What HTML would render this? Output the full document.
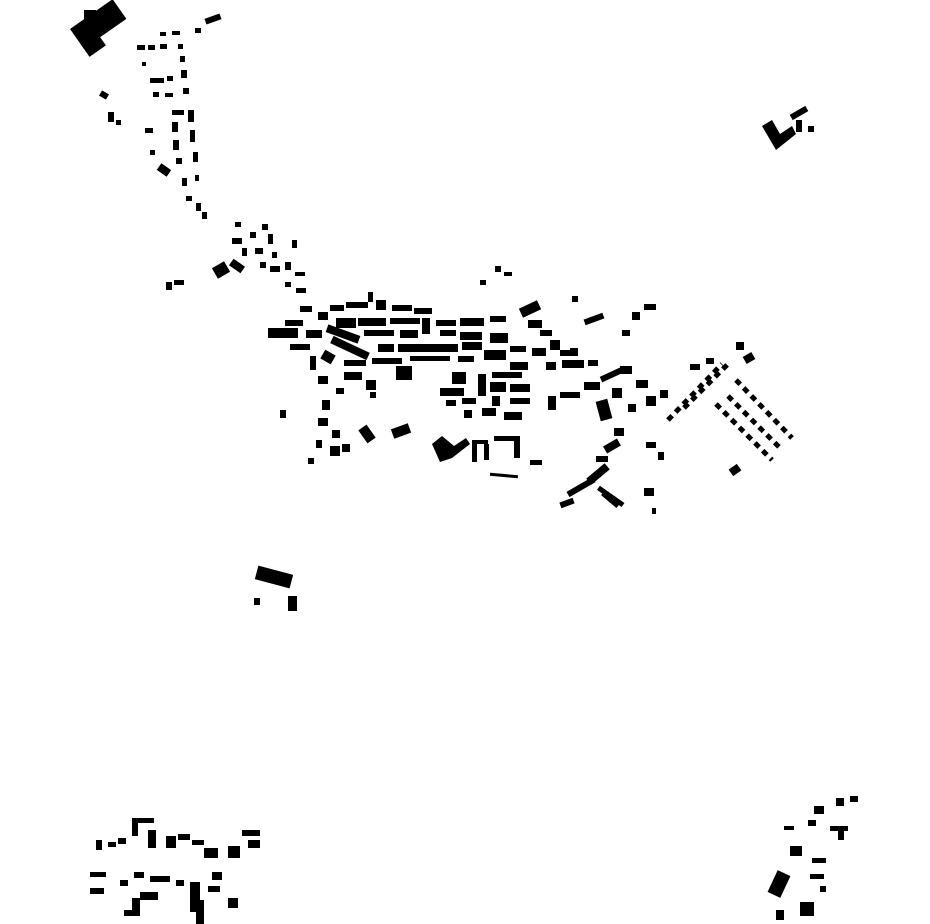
<!DOCTYPE html>
<html><head><meta charset="utf-8"><style>
html,body{margin:0;padding:0;background:#fff;}
svg{display:block}
</style></head><body>
<svg width="930" height="924" viewBox="0 0 930 924" xmlns="http://www.w3.org/2000/svg">
<g fill="#000">
<g transform="rotate(-35 100 30)"><rect x="76" y="12" width="52" height="24"/><rect x="76" y="30" width="20" height="16"/></g>
<rect x="84" y="10" width="12" height="10"/>
<rect x="205" y="16" width="16" height="6" transform="rotate(-20 213 19)"/>
<rect x="195" y="28" width="6" height="5"/><rect x="160" y="32" width="6" height="4"/><rect x="172" y="31" width="8" height="4"/>
<rect x="137" y="45" width="8" height="5"/><rect x="148" y="45" width="7" height="5"/><rect x="160" y="44" width="7" height="5"/>
<rect x="178" y="44" width="5" height="5"/><rect x="180" y="56" width="5" height="6"/><rect x="142" y="62" width="4" height="4"/>
<rect x="150" y="78" width="14" height="5"/><rect x="167" y="76" width="6" height="5"/><rect x="181" y="70" width="6" height="8"/>
<rect x="153" y="92" width="6" height="5"/><rect x="165" y="93" width="8" height="4"/><rect x="183" y="88" width="6" height="6"/>
<rect x="100" y="92" width="8" height="6" transform="rotate(30 104 95)"/><rect x="108" y="112" width="6" height="10"/><rect x="116" y="120" width="5" height="5"/>
<rect x="172" y="110" width="12" height="5"/><rect x="188" y="110" width="6" height="12"/><rect x="172" y="122" width="6" height="10"/>
<rect x="145" y="128" width="8" height="5"/><rect x="190" y="130" width="5" height="12"/><rect x="173" y="140" width="6" height="10"/>
<rect x="150" y="150" width="5" height="5"/><rect x="176" y="158" width="6" height="6"/><rect x="193" y="152" width="5" height="10"/>
<rect x="158" y="166" width="12" height="8" transform="rotate(35 164 170)"/><rect x="182" y="178" width="5" height="8"/><rect x="195" y="175" width="4" height="6"/>
<rect x="186" y="196" width="6" height="5"/><rect x="196" y="203" width="5" height="8"/><rect x="202" y="212" width="5" height="7"/>
<rect x="235" y="222" width="6" height="5"/><rect x="232" y="238" width="10" height="6"/><rect x="250" y="232" width="6" height="6"/>
<rect x="262" y="224" width="6" height="6"/><rect x="268" y="234" width="5" height="10"/><rect x="292" y="240" width="5" height="8"/>
<rect x="242" y="248" width="5" height="8"/><rect x="255" y="248" width="8" height="6"/><rect x="272" y="252" width="5" height="6"/>
<rect x="214" y="264" width="14" height="12" transform="rotate(-30 221 270)"/><rect x="230" y="262" width="14" height="8" transform="rotate(35 237 266)"/>
<rect x="260" y="262" width="6" height="6"/><rect x="270" y="266" width="10" height="6"/><rect x="285" y="262" width="6" height="8"/>
<rect x="295" y="272" width="10" height="4"/><rect x="285" y="282" width="6" height="5"/><rect x="296" y="288" width="10" height="5"/>
<rect x="166" y="282" width="6" height="8"/><rect x="174" y="280" width="10" height="5"/>
<rect x="495" y="266" width="6" height="6"/><rect x="504" y="272" width="8" height="4"/><rect x="480" y="280" width="6" height="5"/>
<rect x="268" y="328" width="30" height="10"/><rect x="285" y="320" width="18" height="6"/><rect x="300" y="306" width="12" height="6"/>
<rect x="318" y="312" width="10" height="8"/><rect x="330" y="305" width="14" height="6"/><rect x="346" y="302" width="22" height="6"/>
<rect x="368" y="292" width="5" height="10"/><rect x="376" y="300" width="10" height="10"/><rect x="392" y="305" width="20" height="6"/>
<rect x="414" y="308" width="18" height="6"/><rect x="336" y="318" width="20" height="10"/><rect x="358" y="318" width="28" height="8"/>
<rect x="390" y="318" width="30" height="6"/><rect x="422" y="318" width="8" height="16"/><rect x="436" y="320" width="20" height="6"/>
<rect x="460" y="318" width="24" height="8"/><rect x="490" y="316" width="16" height="6"/><rect x="306" y="330" width="16" height="8"/>
<rect x="326" y="330" width="34" height="8" transform="rotate(20 343 334)"/><rect x="364" y="330" width="30" height="6"/><rect x="400" y="330" width="18" height="8"/>
<rect x="440" y="330" width="16" height="6"/><rect x="460" y="332" width="22" height="8"/><rect x="490" y="333" width="18" height="10"/>
<rect x="290" y="344" width="20" height="6"/><rect x="330" y="344" width="40" height="8" transform="rotate(25 350 348)"/>
<rect x="378" y="344" width="16" height="8"/><rect x="398" y="344" width="60" height="8"/><rect x="462" y="342" width="20" height="8"/>
<rect x="310" y="356" width="6" height="14"/><rect x="322" y="352" width="12" height="10" transform="rotate(30 328 357)"/>
<rect x="344" y="360" width="22" height="6"/><rect x="372" y="358" width="30" height="6"/><rect x="410" y="356" width="40" height="5"/>
<rect x="458" y="356" width="16" height="6"/><rect x="484" y="350" width="22" height="10"/><rect x="510" y="346" width="16" height="6"/>
<rect x="396" y="366" width="16" height="14"/><rect x="344" y="372" width="18" height="8"/><rect x="318" y="376" width="10" height="8"/>
<rect x="366" y="380" width="10" height="10"/><rect x="336" y="388" width="8" height="6"/><rect x="370" y="392" width="6" height="6"/>
<rect x="452" y="372" width="14" height="12"/><rect x="478" y="374" width="8" height="22"/><rect x="492" y="372" width="30" height="6"/>
<rect x="510" y="362" width="18" height="8"/><rect x="440" y="388" width="24" height="8"/><rect x="490" y="382" width="16" height="10"/>
<rect x="510" y="384" width="20" height="8"/><rect x="446" y="400" width="10" height="6"/><rect x="462" y="398" width="14" height="6"/>
<rect x="492" y="396" width="8" height="10"/><rect x="510" y="398" width="20" height="6"/><rect x="482" y="408" width="14" height="8"/>
<rect x="464" y="410" width="8" height="8"/><rect x="504" y="412" width="18" height="8"/>
<rect x="520" y="304" width="20" height="10" transform="rotate(-25 530 309)"/><rect x="528" y="320" width="14" height="8"/><rect x="540" y="330" width="12" height="6"/>
<rect x="532" y="348" width="14" height="8"/><rect x="550" y="340" width="10" height="10"/><rect x="560" y="350" width="12" height="6"/>
<rect x="546" y="362" width="10" height="8"/><rect x="562" y="360" width="22" height="8"/><rect x="570" y="348" width="8" height="8"/>
<rect x="572" y="296" width="6" height="6"/><rect x="584" y="316" width="20" height="6" transform="rotate(-20 594 319)"/>
<rect x="588" y="360" width="10" height="6"/><rect x="600" y="372" width="22" height="6" transform="rotate(-25 611 375)"/>
<rect x="548" y="396" width="8" height="14"/><rect x="560" y="392" width="20" height="6"/><rect x="584" y="382" width="16" height="8"/>
<rect x="598" y="400" width="12" height="20" transform="rotate(-15 604 410)"/><rect x="612" y="388" width="10" height="10"/>
<rect x="620" y="366" width="12" height="8"/><rect x="622" y="330" width="8" height="6"/><rect x="632" y="312" width="8" height="8"/>
<rect x="644" y="304" width="12" height="6"/><rect x="636" y="380" width="12" height="8"/><rect x="628" y="404" width="8" height="8"/>
<rect x="646" y="396" width="10" height="10"/><rect x="660" y="390" width="8" height="8"/>
<rect x="322" y="400" width="8" height="10"/><rect x="318" y="418" width="10" height="8"/><rect x="332" y="430" width="8" height="8"/>
<rect x="316" y="440" width="6" height="8"/><rect x="330" y="446" width="10" height="10"/><rect x="342" y="444" width="8" height="8"/>
<rect x="308" y="458" width="6" height="6"/><rect x="280" y="410" width="6" height="8"/>
<rect x="362" y="426" width="10" height="16" transform="rotate(-35 367 434)"/><rect x="392" y="426" width="18" height="10" transform="rotate(-20 401 431)"/>
<path d="M432 444 L442 436 L454 446 L466 438 L470 444 L452 458 L440 462 Z"/>
<rect x="472" y="440" width="16" height="4"/><rect x="472" y="444" width="5" height="18"/><rect x="484" y="444" width="5" height="16"/>
<rect x="494" y="436" width="26" height="5"/><rect x="514" y="436" width="6" height="22"/>
<rect x="490" y="474" width="28" height="3" transform="rotate(5 504 475)"/><rect x="530" y="460" width="12" height="5"/>
<rect x="690" y="364" width="10" height="6"/><rect x="706" y="358" width="8" height="6"/><rect x="736" y="342" width="8" height="8"/>
<rect x="744" y="354" width="10" height="8" transform="rotate(-30 749 358)"/>
<rect x="730" y="466" width="10" height="8" transform="rotate(-35 735 470)"/>
<rect x="614" y="428" width="10" height="8"/><rect x="604" y="442" width="16" height="8" transform="rotate(-30 612 446)"/>
<rect x="596" y="456" width="12" height="6"/><rect x="586" y="470" width="24" height="8" transform="rotate(-40 598 474)"/>
<rect x="566" y="484" width="30" height="6" transform="rotate(-30 581 487)"/><rect x="560" y="500" width="14" height="6" transform="rotate(-20 567 503)"/>
<rect x="596" y="494" width="30" height="5" transform="rotate(35 611 496)"/><rect x="600" y="498" width="20" height="4" transform="rotate(40 610 500)"/>
<rect x="644" y="488" width="10" height="8"/><rect x="652" y="508" width="4" height="6"/><rect x="646" y="442" width="10" height="6"/>
<rect x="658" y="452" width="6" height="8"/>
<path d="M762 126 L772 120 L780 134 L792 126 L796 134 L776 150 Z"/>
<rect x="790" y="110" width="18" height="6" transform="rotate(-30 799 113)"/><rect x="796" y="120" width="6" height="12"/><rect x="808" y="126" width="6" height="6"/>
<rect x="256" y="570" width="36" height="14" transform="rotate(15 274 577)"/><rect x="288" y="596" width="9" height="15"/><rect x="254" y="598" width="6" height="7"/>
<rect x="96" y="840" width="6" height="10"/><rect x="108" y="842" width="8" height="5"/><rect x="118" y="838" width="8" height="6"/>
<rect x="132" y="818" width="22" height="5"/><rect x="132" y="822" width="6" height="14"/><rect x="148" y="830" width="8" height="18"/>
<rect x="166" y="836" width="10" height="12"/><rect x="178" y="834" width="12" height="6"/><rect x="192" y="840" width="12" height="5"/>
<rect x="204" y="848" width="14" height="10"/><rect x="228" y="846" width="12" height="12"/><rect x="242" y="830" width="18" height="6"/>
<rect x="248" y="840" width="12" height="8"/><rect x="90" y="872" width="16" height="5"/><rect x="90" y="888" width="14" height="6"/>
<rect x="120" y="880" width="8" height="6"/><rect x="134" y="872" width="10" height="6"/><rect x="150" y="876" width="20" height="6"/>
<rect x="176" y="880" width="8" height="6"/><rect x="190" y="882" width="10" height="30"/><rect x="196" y="900" width="8" height="24"/>
<rect x="208" y="886" width="12" height="6"/><rect x="212" y="872" width="10" height="8"/><rect x="140" y="892" width="18" height="8"/>
<rect x="124" y="910" width="16" height="6"/><rect x="132" y="898" width="8" height="14"/><rect x="228" y="898" width="10" height="10"/>
<rect x="836" y="798" width="8" height="8"/><rect x="850" y="796" width="8" height="6"/><rect x="814" y="806" width="10" height="8"/>
<rect x="808" y="820" width="8" height="6"/><rect x="830" y="826" width="18" height="5"/><rect x="838" y="828" width="6" height="12"/>
<rect x="784" y="826" width="10" height="4"/><rect x="790" y="846" width="12" height="10"/><rect x="812" y="858" width="14" height="5"/>
<rect x="810" y="874" width="14" height="5"/><rect x="772" y="872" width="14" height="24" transform="rotate(25 779 884)"/>
<rect x="800" y="902" width="14" height="14"/><rect x="776" y="910" width="8" height="10"/><rect x="820" y="886" width="6" height="6"/>
</g>
<g stroke="#000" stroke-width="5" stroke-dasharray="6 5" fill="none">
<line x1="668" y1="420" x2="722" y2="364"/>
<line x1="684" y1="408" x2="730" y2="362"/>
<line x1="736" y1="380" x2="792" y2="438"/>
<line x1="716" y1="404" x2="772" y2="460"/>
<line x1="728" y1="396" x2="780" y2="448"/>
</g>
</svg>
</body></html>
